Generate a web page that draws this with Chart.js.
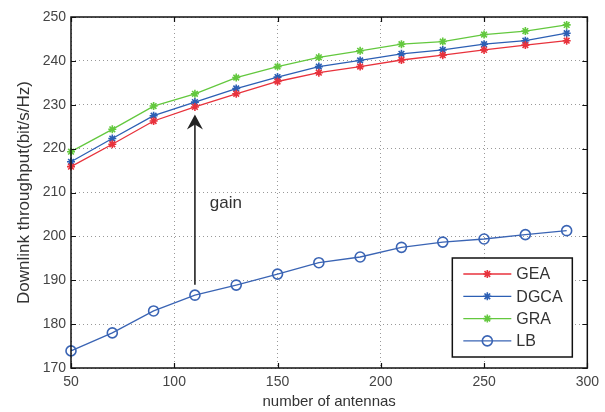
<!DOCTYPE html>
<html>
    <head>
        <title>Downlink throughput</title>
        <meta charset="UTF-8">
        <style>
            body {
                margin: 0;
                background: #ffffff;
            }
            #chartContainer {
                width: 605px;
                height: 412px;
            }
        </style>
    </head>
    <body>
        <div id="chartContainer">
            <canvas id="myChart" width="605" height="412"></canvas>
        </div>

        <script src="https://cdn.jsdelivr.net/npm/chart.js@4.4.1/dist/chart.umd.min.js"></script>
        <script>
            // number of antennas
            var antennas = [50, 70, 90, 110, 130, 150, 170, 190, 210, 230, 250, 270, 290];

            // downlink throughput (bit/s/Hz)
            var gea  = [215.9, 221.0, 226.3, 229.5, 232.5, 235.3, 237.3, 238.7, 240.2, 241.3, 242.5, 243.6, 244.6];
            var dgca = [217.0, 222.3, 227.5, 230.6, 233.7, 236.3, 238.7, 240.1, 241.6, 242.5, 243.8, 244.6, 246.3];
            var gra  = [219.3, 224.4, 229.7, 232.5, 236.2, 238.7, 240.8, 242.3, 243.8, 244.4, 246.0, 246.8, 248.2];
            var lb   = [173.9, 178.0, 183.0, 186.6, 188.9, 191.4, 194.0, 195.3, 197.5, 198.7, 199.4, 200.4, 201.3];

            var seriesNames = ['GEA', 'DGCA', 'GRA', 'LB'];

            var xTicks = [50, 100, 150, 200, 250, 300];
            var yTicks = [170, 180, 190, 200, 210, 220, 230, 240, 250];

            // "gain" arrow annotation (data units)
            var arrowX = 110;
            var arrowFrom = 189;
            var arrowTo = 227.8;
            var gainLabel = 'gain';
            var gainX = 125;
            var gainY = 207.5;

            function toPoints(values) {
                var pts = [];
                for (var i = 0; i < antennas.length; i++) {
                    pts.push({x: antennas[i], y: values[i]});
                }
                return pts;
            }

            var fontFamily = '"Liberation Sans", Arial, Helvetica, sans-serif';

            // frame with inward ticks, arrow, text and legend box like the matlab figure
            var matlabDecor = {
                id: 'matlabDecor',
                afterDatasetsDraw: function (chart) {
                    var ctx = chart.ctx;
                    var area = chart.chartArea;
                    var xs = chart.scales.x;
                    var ys = chart.scales.y;
                    var i, p;

                    ctx.save();
                    ctx.strokeStyle = '#111111';
                    ctx.lineWidth = 1.5;
                    ctx.strokeRect(area.left, area.top, area.right - area.left, area.bottom - area.top);

                    ctx.lineWidth = 1.2;
                    ctx.beginPath();
                    for (i = 0; i < xTicks.length; i++) {
                        p = Math.round(xs.getPixelForValue(xTicks[i])) + 0.5;
                        ctx.moveTo(p, area.bottom);
                        ctx.lineTo(p, area.bottom - 5);
                        ctx.moveTo(p, area.top);
                        ctx.lineTo(p, area.top + 5);
                    }
                    for (i = 0; i < yTicks.length; i++) {
                        p = Math.round(ys.getPixelForValue(yTicks[i])) + 0.5;
                        ctx.moveTo(area.left, p);
                        ctx.lineTo(area.left + 5, p);
                        ctx.moveTo(area.right, p);
                        ctx.lineTo(area.right - 5, p);
                    }
                    ctx.stroke();

                    // arrow
                    var ax = xs.getPixelForValue(arrowX);
                    var ay0 = ys.getPixelForValue(arrowFrom);
                    var ay1 = ys.getPixelForValue(arrowTo);
                    ctx.strokeStyle = '#222222';
                    ctx.fillStyle = '#222222';
                    ctx.lineWidth = 1.6;
                    ctx.beginPath();
                    ctx.moveTo(ax, ay0);
                    ctx.lineTo(ax, ay1 + 8);
                    ctx.stroke();
                    ctx.beginPath();
                    ctx.moveTo(ax, ay1);
                    ctx.lineTo(ax + 8, ay1 + 15);
                    ctx.lineTo(ax, ay1 + 10);
                    ctx.lineTo(ax - 8, ay1 + 15);
                    ctx.closePath();
                    ctx.fill();

                    ctx.fillStyle = '#333333';
                    ctx.font = '17px ' + fontFamily;
                    ctx.textAlign = 'center';
                    ctx.textBaseline = 'middle';
                    ctx.fillText(gainLabel, xs.getPixelForValue(gainX), ys.getPixelForValue(gainY));

                    // legend
                    var boxRight = area.right - 15;
                    var boxLeft = boxRight - 120;
                    var boxBottom = area.bottom - 11;
                    var boxTop = boxBottom - 99;
                    ctx.fillStyle = '#ffffff';
                    ctx.fillRect(boxLeft, boxTop, boxRight - boxLeft, boxBottom - boxTop);
                    ctx.strokeStyle = '#111111';
                    ctx.lineWidth = 1.5;
                    ctx.strokeRect(boxLeft, boxTop, boxRight - boxLeft, boxBottom - boxTop);

                    ctx.font = '16px ' + fontFamily;
                    ctx.textAlign = 'left';
                    var ds = chart.data.datasets;
                    for (i = 0; i < ds.length; i++) {
                        var ly = boxTop + 16 + i * 22.3;
                        ctx.strokeStyle = ds[i].borderColor;
                        ctx.lineWidth = 1.3;
                        ctx.beginPath();
                        ctx.moveTo(boxLeft + 11, ly);
                        ctx.lineTo(boxLeft + 59, ly);
                        ctx.stroke();
                        ctx.fillStyle = ds[i].pointBackgroundColor;
                        ctx.strokeStyle = ds[i].pointBorderColor;
                        ctx.lineWidth = ds[i].pointBorderWidth;
                        Chart.helpers.drawPoint(ctx, {
                            pointStyle: ds[i].pointStyle,
                            radius: ds[i].pointRadius,
                            borderWidth: ds[i].pointBorderWidth
                        }, boxLeft + 35, ly);
                        ctx.fillStyle = '#333333';
                        ctx.fillText(ds[i].label, boxLeft + 64, ly + 1);
                    }
                    ctx.restore();
                }
            };

            function makeSet(name, values, color, style, radius) {
                return {
                    label: name,
                    data: toPoints(values),
                    borderColor: color,
                    backgroundColor: color,
                    borderWidth: 1.3,
                    pointStyle: style,
                    pointRadius: radius,
                    pointBorderWidth: 1.6,
                    pointBackgroundColor: style === 'circle' ? 'rgba(0,0,0,0)' : color,
                    pointBorderColor: color,
                    tension: 0,
                    clip: false
                };
            }

            var ctx = document.getElementById('myChart');
            var myChart = new Chart(ctx, {
                type: 'line',
                data: {
                    datasets: [
                        makeSet(seriesNames[0], gea, '#e8323c', 'star', 4),
                        makeSet(seriesNames[1], dgca, '#2c5fb4', 'star', 4),
                        makeSet(seriesNames[2], gra, '#63c83e', 'star', 4),
                        makeSet(seriesNames[3], lb, '#3a64b4', 'circle', 5)
                    ]
                },
                options: {
                    responsive: false,
                    animation: false,
                    devicePixelRatio: 1,
                    layout: {
                        padding: {left: 0, right: 12, top: 17, bottom: 0}
                    },
                    plugins: {
                        legend: {display: false},
                        tooltip: {enabled: false}
                    },
                    scales: {
                        x: {
                            type: 'linear',
                            min: 50,
                            max: 300,
                            afterFit: function (scale) {
                                scale.height = 44;
                            },
                            afterBuildTicks: function (scale) {
                                scale.ticks = xTicks.map(function (v) { return {value: v}; });
                            },
                            ticks: {
                                color: '#444444',
                                padding: 6,
                                maxRotation: 0,
                                font: {family: fontFamily, size: 14}
                            },
                            grid: {
                                color: '#999999',
                                lineWidth: 1,
                                drawTicks: false
                            },
                            border: {display: false, dash: [1, 3]},
                            title: {
                                display: true,
                                text: 'number of antennas',
                                color: '#333333',
                                padding: {top: 0, bottom: 1},
                                font: {family: fontFamily, size: 15}
                            }
                        },
                        y: {
                            type: 'linear',
                            min: 170,
                            max: 250,
                            afterFit: function (scale) {
                                scale.width = 71;
                            },
                            afterBuildTicks: function (scale) {
                                scale.ticks = yTicks.map(function (v) { return {value: v}; });
                            },
                            ticks: {
                                color: '#444444',
                                padding: 5,
                                font: {family: fontFamily, size: 14}
                            },
                            grid: {
                                color: '#999999',
                                lineWidth: 1,
                                drawTicks: false
                            },
                            border: {display: false, dash: [1, 3]},
                            title: {
                                display: true,
                                text: 'Downlink throughput(bit/s/Hz)',
                                color: '#333333',
                                padding: {top: 14, bottom: 0},
                                font: {family: fontFamily, size: 17}
                            }
                        }
                    }
                },
                plugins: [matlabDecor]
            });
        </script>
    </body>
</html>
